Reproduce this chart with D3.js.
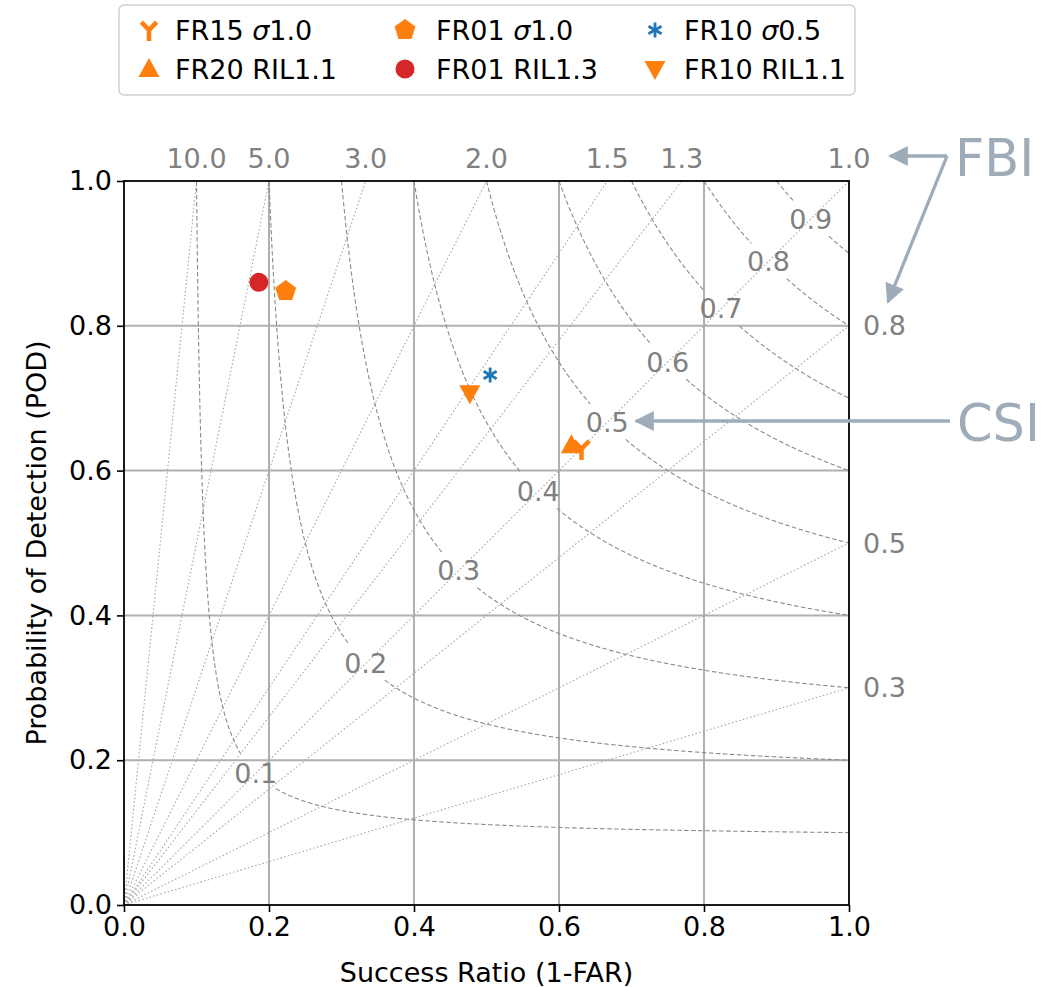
<!DOCTYPE html>
<html><head><meta charset="utf-8">
<script src="https://cdn.jsdelivr.net/npm/d3@7"></script>
<style>
body{margin:0;background:#fff;}
text{font-family:"DejaVu Sans",sans-serif;}
</style></head><body>
<svg id="chart" width="1064" height="987"></svg>
<script>
// Experiments, in legend (column-major) order
const seriesNames = ["FR15 σ1.0", "FR20 RIL1.1", "FR01 σ1.0", "FR01 RIL1.3", "FR10 σ0.5", "FR10 RIL1.1"];
const successRatio = [0.631, 0.617, 0.223, 0.186, 0.505, 0.477];
const probDetection = [0.630, 0.635, 0.848, 0.860, 0.732, 0.707];
const markerKinds = ["tri", "triangleUp", "pentagon", "circle", "asterisk", "triangleDown"];
const markerColors = ["#ff7f0e", "#ff7f0e", "#ff7f0e", "#d62728", "#1f77b4", "#ff7f0e"];

// Frequency bias lines and CSI contours
const biasLevels = [0.3, 0.5, 0.8, 1.0, 1.3, 1.5, 2.0, 3.0, 5.0, 10.0];
const csiLevels = [0.1, 0.2, 0.3, 0.4, 0.5, 0.6, 0.7, 0.8, 0.9];
const axisTicks = [0.0, 0.2, 0.4, 0.6, 0.8, 1.0];
const gridTicks = [0.2, 0.4, 0.6, 0.8];

const svg = d3.select("#chart");
const x = d3.scaleLinear().domain([0, 1]).range([124, 849]);
const y = d3.scaleLinear().domain([0, 1]).range([905, 181]);
const FS = 27;
const labelGrey = "#808080";
const noteColor = "#9eacba";

// grid
const grid = svg.append("g");
grid.selectAll("line.gx").data(gridTicks).join("line")
  .attr("x1", d => x(d)).attr("x2", d => x(d)).attr("y1", y(0)).attr("y2", y(1))
  .attr("stroke", "#b0b0b0").attr("stroke-width", 2);
grid.selectAll("line.gy").data(gridTicks).join("line")
  .attr("y1", d => y(d)).attr("y2", d => y(d)).attr("x1", x(0)).attr("x2", x(1))
  .attr("stroke", "#b0b0b0").attr("stroke-width", 2);

// bias lines (POD = bias * SR)
const biasG = svg.append("g");
biasLevels.forEach(b => {
  const end = b >= 1 ? [1 / b, 1] : [1, b];
  biasG.append("line")
    .attr("x1", x(0)).attr("y1", y(0)).attr("x2", x(end[0])).attr("y2", y(end[1]))
    .attr("stroke", "#a8a8a8").attr("stroke-width", 1.1).attr("stroke-dasharray", "1.6,2.2");
  const t = biasG.append("text").text(b.toFixed(1))
    .attr("fill", labelGrey).attr("font-size", FS);
  if (b >= 1) {
    t.attr("x", x(1 / b)).attr("y", y(1) - 23).attr("text-anchor", "middle").attr("dominant-baseline", "central");
  } else {
    t.attr("x", x(1) + 14).attr("y", y(b)).attr("text-anchor", "start").attr("dominant-baseline", "central");
  }
});

// CSI contours: 1/CSI = 1/SR + 1/POD - 1
const csiG = svg.append("g");
csiLevels.forEach(c => {
  const p = 2 * c / (1 + c);           // label sits where SR == POD
  const lx = x(p), ly = y(p);
  const gap = 25;
  const segs = [[], []];
  const n = 1500;
  for (let i = 0; i <= n; i++) {
    const sr = c + (1 - c) * Math.pow(i / n, 1.6);
    const pod = 1 / (1 / c + 1 - 1 / sr);
    if (pod > 1 || pod <= 0) continue;
    const px = x(sr), py = y(pod);
    const d = Math.hypot(px - lx, py - ly);
    if (d < gap) continue;
    (sr < p ? segs[0] : segs[1]).push([px, py]);
  }
  segs.forEach(s => {
    if (s.length > 1) csiG.append("path").attr("d", d3.line()(s))
      .attr("fill", "none").attr("stroke", "#8a8a8a").attr("stroke-width", 1.1)
      .attr("stroke-dasharray", "4.5,2.5");
  });
  csiG.append("text").text(c.toFixed(1)).attr("x", lx).attr("y", ly)
    .attr("text-anchor", "middle").attr("dominant-baseline", "central")
    .attr("fill", labelGrey).attr("font-size", FS);
});

// axes
const fmt = d3.format(".1f");
const xAxis = svg.append("g").attr("transform", `translate(0,${y(0)})`)
  .call(d3.axisBottom(x).tickValues(axisTicks).tickFormat(fmt).tickSize(7).tickPadding(5));
const yAxis = svg.append("g").attr("transform", `translate(${x(0)},0)`)
  .call(d3.axisLeft(y).tickValues(axisTicks).tickFormat(fmt).tickSize(7).tickPadding(5));
[xAxis, yAxis].forEach(a => {
  a.select(".domain").remove();
  a.selectAll(".tick line").attr("stroke", "#000").attr("stroke-width", 1.6);
  a.selectAll(".tick text").attr("font-size", FS).attr("fill", "#000")
    .attr("font-family", "DejaVu Sans");
});
svg.append("rect").attr("x", x(0)).attr("y", y(1)).attr("width", x(1) - x(0)).attr("height", y(0) - y(1))
  .attr("fill", "none").attr("stroke", "#000").attr("stroke-width", 1.8);

svg.append("text").text("Success Ratio (1-FAR)").attr("x", (x(0) + x(1)) / 2).attr("y", 972)
  .attr("text-anchor", "middle").attr("dominant-baseline", "central").attr("font-size", FS);
svg.append("text").text("Probability of Detection (POD)")
  .attr("transform", `translate(36,${(y(0) + y(1)) / 2}) rotate(-90)`)
  .attr("text-anchor", "middle").attr("dominant-baseline", "central").attr("font-size", FS);

// marker shapes
function drawMarker(g, kind, color, cx, cy) {
  const m = g.append("g").attr("transform", `translate(${cx},${cy})`);
  if (kind === "circle") {
    m.append("circle").attr("r", 9.5).attr("fill", color);
  } else if (kind === "triangleUp" || kind === "triangleDown") {
    const s = kind === "triangleUp" ? 1 : -1;
    m.append("path").attr("d", `M0,${-11 * s}L${10.5},${8 * s}L${-10.5},${8 * s}Z`).attr("fill", color);
  } else if (kind === "pentagon") {
    const r = 11;
    const pts = d3.range(5).map(i => {
      const a = -Math.PI / 2 + i * 2 * Math.PI / 5;
      return [r * Math.cos(a), r * Math.sin(a)];
    });
    m.append("path").attr("d", "M" + pts.join("L") + "Z").attr("fill", color);
  } else if (kind === "tri") {
    const r = 11;
    const arms = [90, 226, 314].map(a => [r * Math.cos(a * Math.PI / 180), r * Math.sin(a * Math.PI / 180)]);
    arms.forEach(p => m.append("line").attr("x1", 0).attr("y1", 0).attr("x2", p[0]).attr("y2", p[1])
      .attr("stroke", color).attr("stroke-width", 4.5));
  } else if (kind === "asterisk") {
    const r = 7.5;
    [90, 30, 150].forEach(a => {
      const dx = r * Math.cos(a * Math.PI / 180), dy = r * Math.sin(a * Math.PI / 180);
      m.append("line").attr("x1", -dx).attr("y1", -dy).attr("x2", dx).attr("y2", dy)
        .attr("stroke", color).attr("stroke-width", 2.8);
    });
  }
}

// data points
const pts = svg.append("g");
seriesNames.forEach((name, i) => {
  drawMarker(pts, markerKinds[i], markerColors[i], x(successRatio[i]), y(probDetection[i]));
});

// legend (3 columns, filled column by column)
const leg = svg.append("g");
leg.append("rect").attr("x", 119).attr("y", 5).attr("width", 736).attr("height", 90).attr("rx", 5)
  .attr("fill", "#fff").attr("stroke", "#d0d0d0").attr("stroke-width", 1.5);
const colMarkerX = [149, 405, 655];
const colTextX = [175, 436, 684];
const rowY = [30, 69];
seriesNames.forEach((name, i) => {
  const col = Math.floor(i / 2), row = i % 2;
  drawMarker(leg, markerKinds[i], markerColors[i], colMarkerX[col], rowY[row]);
  const t = leg.append("text").attr("x", colTextX[col]).attr("y", rowY[row])
    .attr("dominant-baseline", "central").attr("font-size", FS);
  const parts = name.split("σ");
  t.append("tspan").text(parts[0]);
  if (parts.length > 1) {
    t.append("tspan").text("σ").attr("font-style", "italic");
    t.append("tspan").text(parts[1]);
  }
});

// annotations
const defs = svg.append("defs");
defs.append("marker").attr("id", "head").attr("viewBox", "0 0 10 10").attr("refX", 9).attr("refY", 5)
  .attr("markerWidth", 7).attr("markerHeight", 6).attr("markerUnits", "strokeWidth").attr("orient", "auto")
  .append("path").attr("d", "M0,0L10,5L0,10Z").attr("fill", noteColor);
const notes = svg.append("g");
const arrow = (x1, y1, x2, y2) => notes.append("line").attr("x1", x1).attr("y1", y1).attr("x2", x2).attr("y2", y2)
  .attr("stroke", noteColor).attr("stroke-width", 3.3).attr("marker-end", "url(#head)");
arrow(947, 156, 890, 156);
arrow(947, 156, 888, 302);
arrow(950, 421, 636, 421);
notes.append("text").text("FBI").attr("x", 955).attr("y", 158).attr("dominant-baseline", "central")
  .attr("font-size", 51).attr("fill", noteColor);
notes.append("text").text("CSI").attr("x", 957).attr("y", 423).attr("dominant-baseline", "central")
  .attr("font-size", 51).attr("fill", noteColor);
</script></body></html>
